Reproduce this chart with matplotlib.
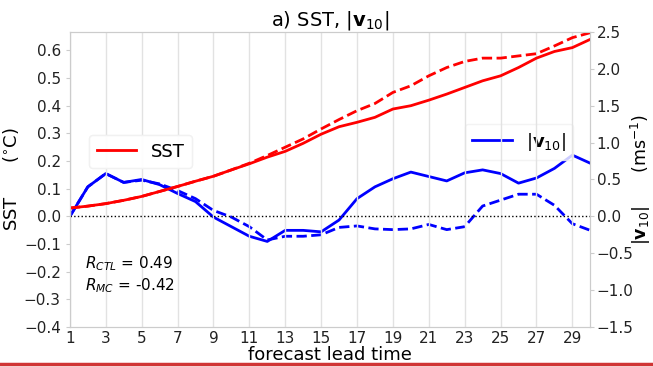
import numpy as np
import matplotlib
matplotlib.use("Agg")
import matplotlib.pyplot as plt
from matplotlib.lines import Line2D

# forecast lead time (days)
lead = np.arange(1, 31)

# SST anomaly, CTL (solid) and MC (dashed)
sst_ctl = [0.030, 0.037, 0.046, 0.058, 0.072, 0.090, 0.108, 0.127, 0.145, 0.168,
           0.190, 0.214, 0.235, 0.264, 0.297, 0.324, 0.340, 0.358, 0.388, 0.400,
           0.420, 0.442, 0.466, 0.490, 0.508, 0.538, 0.572, 0.596, 0.610, 0.640]
sst_mc = [0.030, 0.037, 0.046, 0.058, 0.072, 0.090, 0.108, 0.127, 0.145, 0.168,
          0.192, 0.220, 0.250, 0.280, 0.316, 0.350, 0.382, 0.408, 0.448, 0.472,
          0.508, 0.538, 0.560, 0.572, 0.572, 0.580, 0.588, 0.616, 0.646, 0.664]

# |v10| anomaly, CTL (solid) and MC (dashed)
v10_ctl = [0.00, 0.40, 0.58, 0.46, 0.50, 0.43, 0.31, 0.20, -0.01, -0.14,
           -0.27, -0.34, -0.19, -0.19, -0.21, -0.05, 0.24, 0.40, 0.51, 0.60,
           0.54, 0.48, 0.59, 0.63, 0.58, 0.45, 0.52, 0.65, 0.83, 0.72]
v10_mc = [0.00, 0.40, 0.58, 0.46, 0.49, 0.44, 0.35, 0.24, 0.08, -0.01,
          -0.14, -0.32, -0.27, -0.27, -0.25, -0.15, -0.13, -0.17, -0.18, -0.17,
          -0.11, -0.18, -0.14, 0.14, 0.22, 0.30, 0.30, 0.15, -0.10, -0.19]

xticks = list(range(1, 30, 2))

fig = plt.figure(figsize=(6.53, 3.67), dpi=100)
ax = fig.add_axes([0.107, 0.109, 0.797, 0.804])
ax2 = ax.twinx()

grey = "#cccccc"
for a in (ax, ax2):
    for s in a.spines.values():
        s.set_color(grey)
    a.tick_params(labelcolor="#222222", labelsize=11, length=3, color=grey)
ax.tick_params(axis="x", length=0, pad=3)
ax2.tick_params(axis="y", pad=1.5)

ax.set_zorder(ax2.get_zorder() + 1)
ax.patch.set_visible(False)

ax.grid(axis="x", color="#e2e2e2", lw=1)
ax.axhline(0, color="black", ls=":", lw=1)

ax.plot(lead, sst_ctl, color="red", lw=2, label="SST")
ax.plot(lead, sst_mc, color="red", lw=2, ls="--")
ax2.plot(lead, v10_ctl, color="blue", lw=2, label=r"|$\mathbf{v}_{10}$|")
ax2.plot(lead, v10_mc, color="blue", lw=2, ls="--")

ax.set_xlim(1, 30)
ax.set_ylim(-0.4, 0.6667)
ax2.set_ylim(-1.5, 2.5)
ax.set_xticks(xticks)
ax.set_yticks(np.arange(-0.4, 0.61, 0.1))
ax2.set_yticks(np.arange(-1.5, 2.51, 0.5))

ax.set_xlabel("forecast lead time", fontsize=13, labelpad=0)
ax.set_ylabel(r"SST      ($^{\circ}$C)", fontsize=13, labelpad=2)
ax2.set_ylabel(r"|$\mathbf{v}_{10}$|      (ms$^{-1}$)", fontsize=12.5, labelpad=-3)
ax.set_title(r"a) SST, |$\mathbf{v}_{10}$|", fontsize=14, pad=3)

leg1 = ax.legend(loc="upper left", bbox_to_anchor=(0.02, 0.68), fontsize=13,
                 handlelength=2.2, framealpha=0.8, edgecolor="#f0f0f0")
ax.add_artist(leg1)
ax2.legend(loc="upper right", bbox_to_anchor=(0.985, 0.72), fontsize=13,
           handlelength=2.2, framealpha=0.8, edgecolor="#f0f0f0")

ax.text(0.03, 0.2, r"$R_{CTL}$ = 0.49", transform=ax.transAxes, fontsize=11)
ax.text(0.03, 0.125, r"$R_{MC}$ = -0.42", transform=ax.transAxes, fontsize=11)

fig.add_artist(Line2D([0, 1], [0.008, 0.008], transform=fig.transFigure,
                      color="#d03535", lw=2.5))

fig.savefig("out.png", dpi=100)
